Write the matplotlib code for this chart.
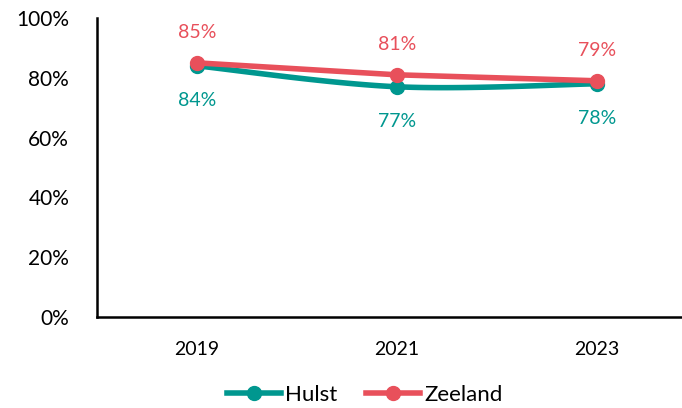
import matplotlib
matplotlib.use('Agg')
from matplotlib import pyplot as plt
from matplotlib.ticker import FuncFormatter
import numpy as np

years = ['2019', '2021', '2023']
hulst = [84, 77, 78]
zeeland = [85, 81, 79]

plt.rcParams['font.family'] = ['Lato', 'DejaVu Sans']

teal = '#00978F'
red = '#E8505B'


def smooth(xs, ys, n=40):
    # Catmull-Rom style smoothing like the spreadsheet "smoothed line"
    xs = np.asarray(xs, float)
    ys = np.asarray(ys, float)
    px = np.concatenate([[xs[0]], xs, [xs[-1]]])
    py = np.concatenate([[ys[0]], ys, [ys[-1]]])
    ox, oy = [], []
    for i in range(1, len(px) - 2):
        p0, p1, p2, p3 = [np.array([px[j], py[j]]) for j in (i - 1, i, i + 1, i + 2)]
        c1 = p1 + (p2 - p0) / 6
        c2 = p2 - (p3 - p1) / 6
        t = np.linspace(0, 1, n)[:, None]
        b = (1 - t) ** 3 * p1 + 3 * (1 - t) ** 2 * t * c1 + 3 * (1 - t) * t ** 2 * c2 + t ** 3 * p2
        ox.extend(b[:, 0])
        oy.extend(b[:, 1])
    return ox, oy


fig = plt.figure(figsize=(6.82, 4.08), dpi=100)
ax = fig.add_axes([97 / 682, (408 - 317) / 408, 600 / 682, 299 / 408])

x = np.arange(len(years))
sx, sy = smooth(x, hulst)
ax.plot(sx, sy, color=teal, lw=4, solid_capstyle='round', zorder=2)
ax.plot(x, hulst, 'o', color=teal, ms=10, zorder=3)
ax.plot(x, zeeland, '-o', color=red, lw=4, ms=10, solid_capstyle='round', zorder=4)

for xi, v in zip(x, hulst):
    ax.annotate(f'{v}%', (xi, v), xytext=(0, -25), textcoords='offset points',
                ha='center', va='center', color=teal, fontsize=14)
for xi, v in zip(x, zeeland):
    ax.annotate(f'{v}%', (xi, v), xytext=(0, 22), textcoords='offset points',
                ha='center', va='center', color=red, fontsize=14)

ax.set_xlim(-0.5, 2.5)
ax.set_ylim(0, 100)
ax.set_yticks(range(0, 101, 20))
ax.yaxis.set_major_formatter(FuncFormatter(lambda v, p: f'{v:.0f}%'))
ax.set_xticks(x)
ax.set_xticklabels(years)
ax.tick_params(axis='y', length=0, labelsize=15, pad=20)
ax.tick_params(axis='x', length=0, labelsize=14, pad=17)
for s in ['top', 'right']:
    ax.spines[s].set_visible(False)
for s in ['left', 'bottom']:
    ax.spines[s].set_linewidth(1.8)
    ax.spines[s].set_color('black')

h1, = ax.plot([], [], '-o', color=teal, lw=4, ms=10)
h2, = ax.plot([], [], '-o', color=red, lw=4, ms=10)
fig.legend([h1, h2], ['Hulst', 'Zeeland'], loc='center', bbox_to_anchor=(365 / 682, 13 / 408),
           ncol=2, frameon=False, fontsize=16, handlelength=2.4, columnspacing=1.3, handletextpad=0.2)

fig.savefig('out.png', dpi=100)
